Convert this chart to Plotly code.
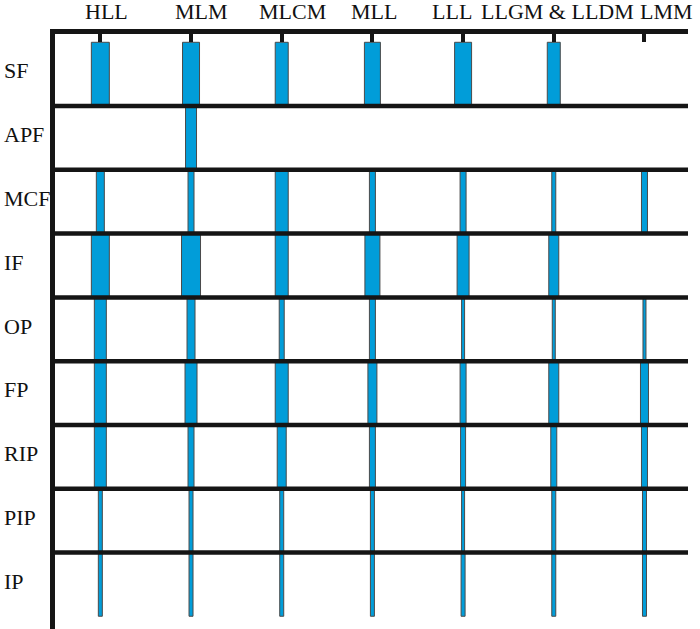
import plotly.graph_objects as go

# formations (columns) and fossil groups (rows)
formations = ["HLL", "MLM", "MLCM", "MLL", "LLL", "LLGM & LLDM", "LMM"]
groups = ["SF", "APF", "MCF", "IF", "OP", "FP", "RIP", "PIP", "IP"]

# relative abundance of each group per formation (bar thickness, 0 = absent)
SF = [18, 17, 13, 16, 17, 13, 0]
APF = [0, 11, 0, 0, 0, 0, 0]
MCF = [8, 6, 13, 6, 6, 4, 6]
IF = [18, 19, 13, 15, 12, 10, 0]
OP = [12, 8, 5, 6, 3, 3, 3]
FP = [12, 12, 13, 9, 6, 10, 8]
RIP = [12, 6, 9, 6, 5, 6, 6]
PIP = [4, 4, 4, 4, 3, 4, 4]
IP = [4, 4, 4, 4, 4, 4, 4]

rows = [SF, APF, MCF, IF, OP, FP, RIP, PIP, IP]

# the header labels in the original are nudged off the tick marks a little
label_shift = [6, 10, 11, 2, -11, 4, 22]

scale = 90.7  # abundance units per category slot
ink = "#151515"
serif = "Liberation Serif"

xs, bases, ws = [], [], []
for r, vals in enumerate(rows):
    for f, v in zip(formations, vals):
        if v > 0:
            xs.append(f)
            bases.append(r)
            ws.append(v / scale)

fig = go.Figure()
fig.add_trace(go.Bar(
    x=xs, y=[1] * len(xs), base=bases, width=ws,
    marker=dict(color="#019dd9", line=dict(color="#4a4a4a", width=1)),
    hoverinfo="skip", showlegend=False))

# row separators
for r in range(1, len(groups)):
    fig.add_shape(type="line", xref="paper", x0=0, x1=1, yref="y", y0=r, y1=r,
                  line=dict(color=ink, width=4.5), layer="above")

# row labels on the left
for r, g in enumerate(groups):
    fig.add_annotation(text=g, xref="paper", x=-0.084, xanchor="left",
                       yref="y", y=r + 0.45, showarrow=False,
                       font=dict(family=serif, size=22, color="#111"))

# column labels on top
for f, s in zip(formations, label_shift):
    fig.add_annotation(text=f, xref="x", x=f, xshift=s, yref="paper", y=1,
                       yanchor="bottom", yshift=8, showarrow=False,
                       font=dict(family=serif, size=22, color="#111"))

fig.update_layout(
    width=700, height=629,
    margin=dict(l=55, r=12, t=34, b=0, autoexpand=False),
    plot_bgcolor="white", paper_bgcolor="white",
    barmode="overlay",
    font=dict(family=serif, size=22, color="#111"),
    xaxis=dict(side="top", type="category", categoryorder="array",
               categoryarray=formations, range=[-0.5, 6.48],
               showticklabels=False, showgrid=False, zeroline=False,
               showline=True, linecolor=ink, linewidth=4.5,
               ticks="inside", ticklen=8, tickwidth=4, tickcolor=ink,
               automargin=False),
    yaxis=dict(range=[9.2, -0.13], showgrid=False, zeroline=False,
               showticklabels=False, showline=True, linecolor=ink,
               linewidth=4.5, automargin=False),
)

# drop the page margin so the figure sits at the window's corner
fig.write_html("out.html", config={"displayModeBar": False},
               post_script="document.body.style.margin='0';")
